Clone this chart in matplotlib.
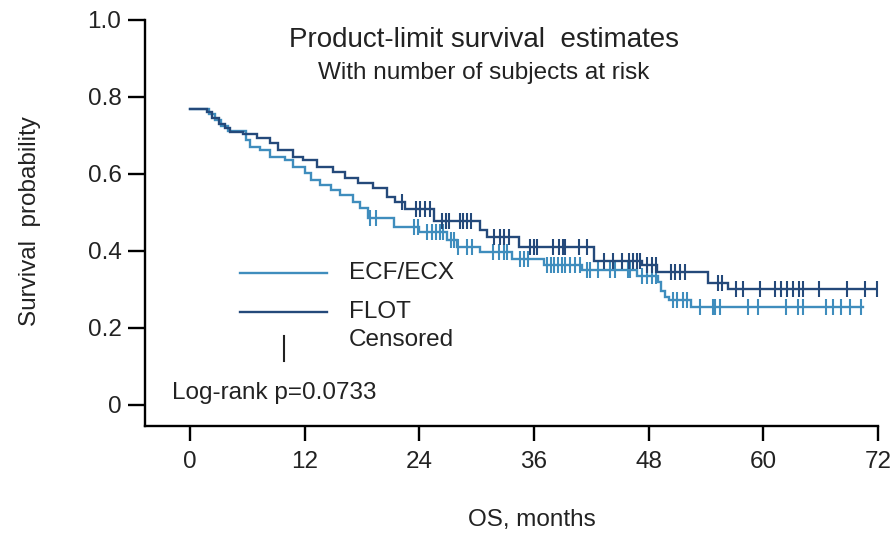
import numpy as np
import matplotlib.pyplot as plt
from matplotlib.lines import Line2D

plt.rcParams['font.family'] = ['Liberation Sans', 'DejaVu Sans']

# ECF/ECX arm: step times (months), survival after each step, censored times
ecf_time = [0, 2.0, 2.6, 3.3, 4.0, 5.9, 6.3, 7.3, 8.4, 9.9, 10.8, 12.0, 12.7, 13.6,
            14.8, 15.7, 17.1, 17.8, 18.6, 21.4, 24.0, 26.9, 27.9, 30.4, 33.7, 37.0,
            41.0, 46.8, 49.0, 49.3, 49.7, 50.1, 52.4]
ecf_surv = [0.77, 0.755, 0.74, 0.725, 0.712, 0.688, 0.671, 0.662, 0.645, 0.636, 0.619,
            0.602, 0.584, 0.571, 0.558, 0.545, 0.528, 0.511, 0.486, 0.463, 0.45, 0.428,
            0.411, 0.396, 0.38, 0.364, 0.35, 0.336, 0.318, 0.296, 0.281, 0.272, 0.255]
ecf_censor = [18.8, 19.5, 23.4, 23.9, 24.8, 25.3, 25.8, 26.2, 26.5, 27.3, 27.6, 28.1,
              29.0, 29.5, 31.7, 32.3, 32.9, 33.2, 34.5, 35.0, 35.4, 37.4, 37.8, 38.1,
              38.5, 38.9, 39.3, 39.8, 40.3, 40.8, 41.5, 41.9, 42.7, 44.0, 44.5, 45.8,
              46.1, 47.3, 47.8, 48.3, 48.8, 50.5, 51.0, 51.6, 52.0, 53.4, 54.7, 54.9,
              55.5, 58.4, 59.4, 62.4, 63.6, 64.1, 66.6, 67.3, 68.1, 69.1, 70.2]
ecf_end = 70.4

# FLOT arm
flot_time = [0, 1.8, 2.3, 3.0, 3.7, 4.2, 5.6, 7.0, 8.4, 9.2, 10.8, 11.8, 13.3, 15.0,
             16.2, 17.6, 19.2, 20.6, 21.5, 22.5, 25.5, 30.4, 31.1, 34.4, 42.3, 47.3,
             48.9, 54.2, 56.3]
flot_surv = [0.77, 0.76, 0.745, 0.73, 0.72, 0.71, 0.705, 0.693, 0.68, 0.662, 0.645,
             0.636, 0.619, 0.606, 0.589, 0.576, 0.563, 0.541, 0.528, 0.51, 0.478, 0.455,
             0.437, 0.41, 0.374, 0.364, 0.346, 0.316, 0.301]
flot_censor = [22.2, 23.7, 24.1, 24.6, 25.1, 26.4, 26.8, 27.1, 28.3, 28.6, 29.0, 29.4,
               31.8, 32.4, 32.9, 33.4, 35.6, 36.0, 36.3, 38.0, 38.6, 39.0, 39.3, 40.7,
               41.5, 43.3, 44.3, 45.2, 45.9, 46.4, 46.8, 47.1, 47.8, 48.3, 48.8, 50.3,
               50.8, 51.3, 51.8, 55.3, 55.7, 57.1, 57.9, 59.7, 61.2, 61.8, 62.5, 63.1,
               63.7, 64.2, 65.8, 68.8, 70.6, 71.9]
flot_end = 71.9

x_ticks = [0, 12, 24, 36, 48, 60, 72]
y_ticks = [0, 0.2, 0.4, 0.6, 0.8, 1.0]
y_tick_labels = ['0', '0.2', '0.4', '0.6', '0.8', '1.0']

ecf_color = '#3f8dbd'
flot_color = '#24497a'
text_color = '#222222'
fs = 17.5


def draw_km(ax, time, surv, censor, end, color):
    t = list(time) + [end]
    s = list(surv) + [surv[-1]]
    ax.step(t, s, where='post', color=color, lw=1.7, solid_joinstyle='miter')
    idx = np.searchsorted(time, censor, side='right') - 1
    cy = np.array(surv)[idx]
    ax.plot(censor, cy, ls='none', marker='|', ms=11, mew=1.5, color=color)


fig = plt.figure(figsize=(8.94, 5.35), dpi=100)
ax = fig.add_axes([145 / 894, 109 / 535, (878 - 145) / 894, (515 - 109) / 535])

draw_km(ax, ecf_time, ecf_surv, ecf_censor, ecf_end, ecf_color)
draw_km(ax, flot_time, flot_surv, flot_censor, flot_end, flot_color)

ax.set_xlim(-4.7, 72)
ax.set_ylim(-0.055, 1.0)
ax.set_xticks(x_ticks)
ax.set_yticks(y_ticks)
ax.set_yticklabels(y_tick_labels)
for side in ['top', 'right']:
    ax.spines[side].set_visible(False)
for side in ['left', 'bottom']:
    ax.spines[side].set_linewidth(1.7)
ax.tick_params(axis='y', length=12, width=1.7, labelsize=fs, pad=5, colors=text_color)
ax.tick_params(axis='x', length=11, width=1.7, labelsize=fs, pad=7, colors=text_color)
ax.tick_params(axis='both', color='black')

fig.text(532 / 894, 1 - 520 / 535, 'OS, months', fontsize=fs, color=text_color,
         ha='center', va='center')
fig.text(30 / 894, 1 - 221 / 535, 'Survival  probability', fontsize=fs, color=text_color,
         ha='center', va='center', rotation=90)

ax.text(0.462, 0.951, 'Product-limit survival  estimates', transform=ax.transAxes,
        ha='center', va='center', fontsize=20, color=text_color)
ax.text(0.462, 0.869, 'With number of subjects at risk', transform=ax.transAxes,
        ha='center', va='center', fontsize=17.5, color=text_color)

# legend drawn by hand
ax.add_line(Line2D([5.2, 14.3], [0.343, 0.343], color=ecf_color, lw=1.7))
ax.add_line(Line2D([5.2, 14.3], [0.242, 0.242], color=flot_color, lw=1.7))
ax.add_line(Line2D([9.8, 9.8], [0.115, 0.18], color=text_color, lw=1.5))
ax.text(16.6, 0.343, 'ECF/ECX', fontsize=fs, va='center', color=text_color)
ax.text(16.6, 0.242, 'FLOT', fontsize=fs, va='center', color=text_color)
ax.text(16.6, 0.168, 'Censored', fontsize=fs, va='center', color=text_color)
ax.text(-1.9, 0.032, 'Log-rank p=0.0733', fontsize=fs, va='center', color=text_color)

fig.savefig('out.png', dpi=100)
